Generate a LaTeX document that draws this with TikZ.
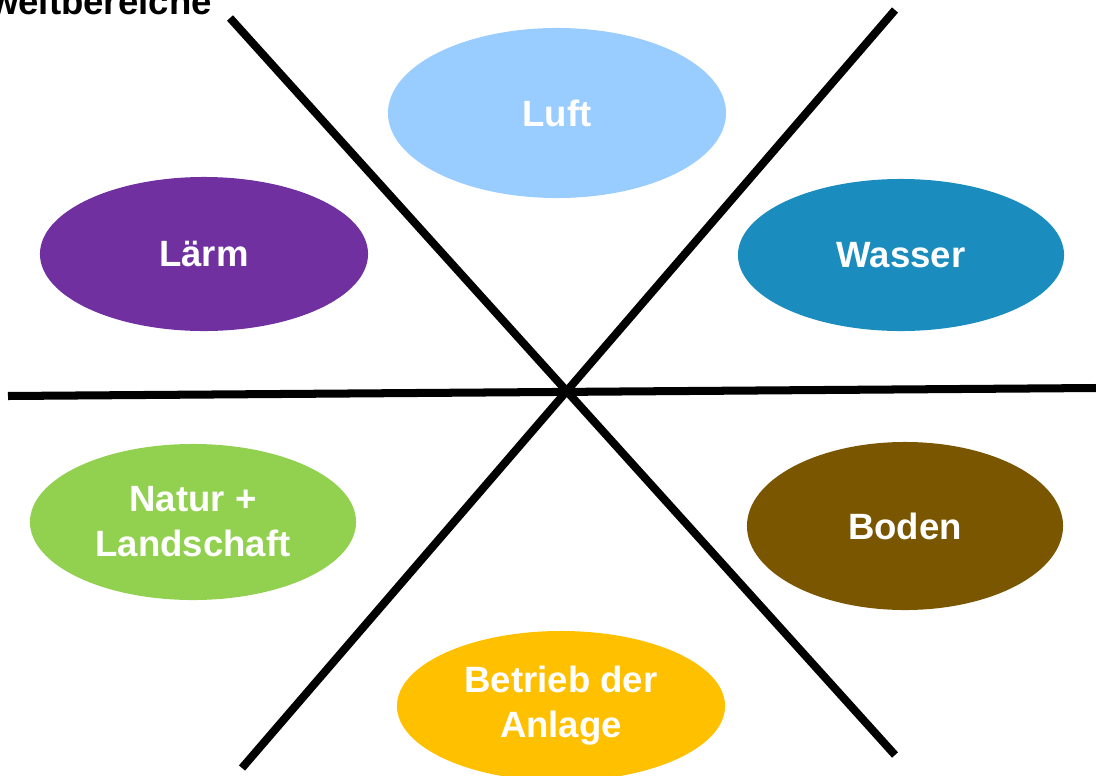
\documentclass[tikz,border=0pt]{standalone}
\usepackage{fontspec}
\setmainfont{Liberation Sans}
\usetikzlibrary{shapes.geometric}

\definecolor{luftblau}{HTML}{99CCFF}
\definecolor{laermlila}{HTML}{7030A0}
\definecolor{wasserblau}{HTML}{1A8CBE}
\definecolor{naturgruen}{HTML}{92D050}
\definecolor{bodenbraun}{HTML}{7B5600}
\definecolor{betriebgelb}{HTML}{FFC000}

\begin{document}
\begin{tikzpicture}[
    x=0.025cm, y=-0.025cm,
    font=\bfseries\fontsize{26}{32}\selectfont,
    bereich/.style={ellipse, draw=none, text=white, align=center, inner sep=0pt},
    achse/.style={draw=black, line width=5.7pt},
]
\useasboundingbox (0,0) rectangle (1096,775);

\node[anchor=base east, inner sep=0pt] (titel) at (212,15) {Umweltbereiche};

% Bereiche
\node[bereich, fill=luftblau, minimum width=8.45cm, minimum height=4.25cm] (luft) at (557,113) {Luft};
\node[bereich, fill=laermlila, minimum width=8.2cm, minimum height=3.85cm] (laerm) at (204,254) {Lärm};
\node[bereich, fill=wasserblau, minimum width=8.15cm, minimum height=3.8cm] (wasser) at (901,255) {Wasser};
\node[bereich, fill=naturgruen, minimum width=8.15cm, minimum height=3.9cm] (natur) at (193,522) {Natur +\\Landschaft};
\node[bereich, fill=bodenbraun, minimum width=7.9cm, minimum height=4.2cm] (boden) at (905,526) {Boden};
\node[bereich, fill=betriebgelb, minimum width=8.2cm, minimum height=3.75cm] (betrieb) at (561,706) {Betrieb der\\Anlage};

% Achsen
\coordinate (links) at (8,396);
\coordinate (rechts) at (1096,388);
\coordinate (obenlinks) at (230,18);
\coordinate (untenrechts) at (895,755);
\coordinate (obenrechts) at (895,10);
\coordinate (untenlinks) at (242,768);

\draw[achse] (links) -- (rechts);
\draw[achse] (obenlinks) -- (untenrechts);
\draw[achse] (obenrechts) -- (untenlinks);

\end{tikzpicture}
\end{document}
